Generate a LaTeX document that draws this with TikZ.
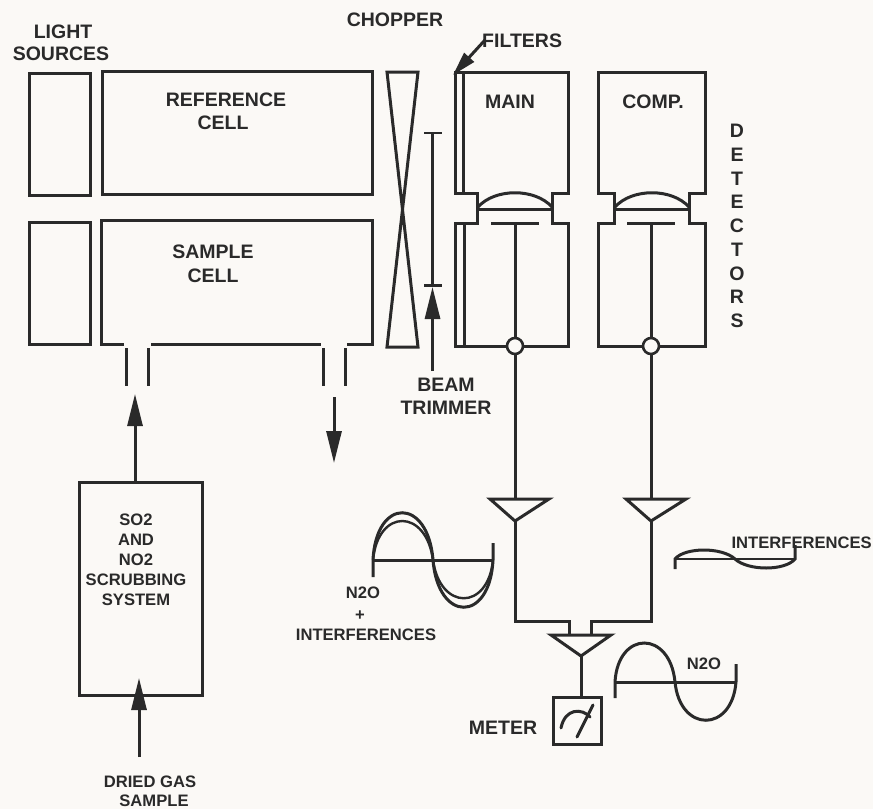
\documentclass[tikz,border=0pt]{standalone}
\usepackage{fontspec}
\setmainfont{Liberation Sans}
\usetikzlibrary{arrows.meta}
\definecolor{paper}{HTML}{FBF9F6}
\definecolor{ink}{HTML}{2A2A2A}
\tikzset{
  ln/.style={draw=ink,line width=3pt,line join=miter},
  thinln/.style={draw=ink,line width=2.4pt},
  lab/.style={font=\bfseries\fontsize{19.5}{24}\selectfont,text=ink,align=center,inner sep=0pt},
  labs/.style={font=\bfseries\fontsize{16.6}{20}\selectfont,text=ink,align=center,inner sep=0pt},
  arr/.style={draw=ink,line width=3pt,-{Triangle[length=32pt,width=15pt]}},
  boxs/.style={ln,rectangle,anchor=north west,inner sep=0pt,outer sep=0pt},
  circ/.style={circle,draw=ink,line width=2.6pt,fill=paper,minimum size=16pt,inner sep=0pt}
}
\begin{document}
\begin{tikzpicture}[x=1pt,y=-1pt]
\path[fill=paper,use as bounding box] (0,0) rectangle (873,809);
% sources
\node[boxs,minimum width=61pt,minimum height=122pt] (src1) at (29,73) {};
\node[boxs,minimum width=61pt,minimum height=122pt] (src2) at (29,222) {};
\node[lab] (lightlab) at (63,32) {LIGHT};
\node[lab] (sourceslab) at (61,54) {SOURCES};
% cells
\node[boxs,minimum width=270pt,minimum height=123pt] (refcell) at (102,71) {};
\node[lab] (reflab) at (226,100) {REFERENCE};
\node[lab] (reflabb) at (223,123) {CELL};
\draw[ln] (124,344) -- (101,344) -- (101,220) -- (372,220) -- (372,344) -- (347,344);
\draw[ln] (151,344) -- (321,344);
\node[lab] (samplab) at (213,252) {SAMPLE};
\node[lab] (samplabb) at (213,276) {CELL};
% ports
\draw[ln] (126,348) -- (126,386);
\draw[ln] (148,348) -- (148,386);
\draw[ln] (323,348) -- (323,386);
\draw[ln] (345,348) -- (345,386);
% chopper
\draw[ln] (387,72) -- (418,72) -- (387,347) -- (418,347) -- cycle;
\node[lab] (choplab) at (395,20) {CHOPPER};
% beam trimmer
\coordinate (bttop) at (432.500,133);
\coordinate (btbar) at (432.500,285);
\coordinate (btfoot) at (432.500,371);
\draw[thinln] (bttop) -- (btbar);
\draw[thinln] (424,133) -- (442,133);
\draw[thinln] (424,285.500) -- (442,285.500);
\draw[arr] (btfoot) -- (432.500,287);
\node[lab] (btlab) at (446,385) {BEAM};
\node[lab] (btlabb) at (446,408) {TRIMMER};
% main detector
\draw[ln] (463,193) -- (463,72);
\draw[ln] (455,193) -- (455,72) -- (568,72) -- (568,193) -- (552,193) -- (552,223) -- (568,223) -- (568,346) -- (455,346) -- (455,223) -- (477,223) -- (477,193) -- cycle;
\draw[ln] (464,223) -- (464,346);
\draw[ln] (478,209) -- (552,209);
\draw[ln] (478,207) .. controls (495,188) and (535,188) .. (552,207);
\draw[ln] (491,223) -- (539,223);
\draw[ln] (515,223) -- (515,338);
\node[circ] (mcirc) at (515,346) {};
\node[lab] (mainlab) at (510,102) {MAIN};
\coordinate (filtertip) at (453,75);
\coordinate (filtertail) at (485,40);
\draw[arr,-{Triangle[length=24pt,width=13pt]}] (filtertail) -- (filtertip);
\node[lab,anchor=west] (filterlab) at (482,41) {FILTERS};
% comp detector
\draw[ln] (598,72) -- (705,72) -- (705,193) -- (689,193) -- (689,223) -- (705,223) -- (705,346) -- (598,346) -- (598,223) -- (614,223) -- (614,193) -- (598,193) -- cycle;
\draw[ln] (615,209) -- (689,209);
\draw[ln] (615,207) .. controls (632,188) and (672,188) .. (689,207);
\draw[ln] (627,223) -- (675,223);
\draw[ln] (651,223) -- (651,338);
\node[circ] (ccirc) at (651,346) {};
\node[lab] (complab) at (653,102) {COMP.};
\node[lab,font=\bfseries\fontsize{19.5}{23.7}\selectfont] (detlab) at (737,226) {D\\E\\T\\E\\C\\T\\O\\R\\S};
% amplifiers
\draw[ln] (490,499) -- (549,499) -- (515,521) -- cycle;
\draw[ln] (626,499) -- (686,499) -- (651,521) -- cycle;
\draw[ln] (551,635) -- (611,635) -- (581,656) -- cycle;
\draw[ln] (mcirc) -- (515,499);
\draw[ln] (ccirc) -- (651,499);
\draw[ln] (515,521) -- (515,621) -- (569,621) -- (569,635);
\draw[ln] (651,521) -- (651,621) -- (591,621) -- (591,635);
\draw[ln] (581,656) -- (581,697);
% meter
\node[boxs,minimum width=48pt,minimum height=47pt] (meter) at (553,697) {};
\draw[ln,line cap=round] (561,728) .. controls (565,708) and (582,708) .. (590,717);
\draw[ln,line cap=round] (577,737) -- (593,705);
\node[lab] (meterlab) at (503,728) {METER};
% scrubber
\node[boxs,minimum width=123pt,minimum height=213pt] (scrub) at (79,482) {};
\node[labs] (scrublab) at (136,560) {SO2\\AND\\NO2\\SCRUBBING\\SYSTEM};
\coordinate (gasin) at (139,757);
\draw[arr] (gasin) -- (139,678);
\draw[arr] (135,482) -- (135,394);
\coordinate (outtop) at (334,397);
\coordinate (outtip) at (334,463);
\draw[arr] (outtop) -- (outtip);
\node[labs] (gaslab) at (150,782) {DRIED GAS};
\node[labs] (gaslabb) at (154,801) {SAMPLE};
% waves
\draw[ln] (373,560) -- (493,560);
\draw[ln] (373,577) -- (373,560) .. controls (376,497) and (428,497) .. (433,560) .. controls (438,623) and (490,623) .. (493,560) -- (493,543);
\draw[thinln] (373,560) .. controls (378,508) and (426,508) .. (433,560) .. controls (440,611) and (488,611) .. (493,560);
\node[labs] (n2olab) at (363,593) {N2O};
\node[labs] (pluslab) at (360,616) {+};
\node[labs] (mixlab) at (366,635) {INTERFERENCES};
\draw[ln] (615,682) -- (736,682);
\draw[ln] (615,698) -- (615,682) .. controls (618,630) and (670,630) .. (675,682) .. controls (680,733) and (732,733) .. (736,682) -- (736,664);
\node[labs] (n2o2) at (704,664) {N2O};
\draw[thinln] (675,559) -- (795,559);
\draw[ln] (675,569) -- (675,559) .. controls (685,547) and (722,547) .. (735,559) .. controls (748,571) and (785,571) .. (795,559) -- (795,545);
\node[labs,anchor=east] (intlab) at (872,543) {INTERFERENCES};
\end{tikzpicture}
\end{document}
